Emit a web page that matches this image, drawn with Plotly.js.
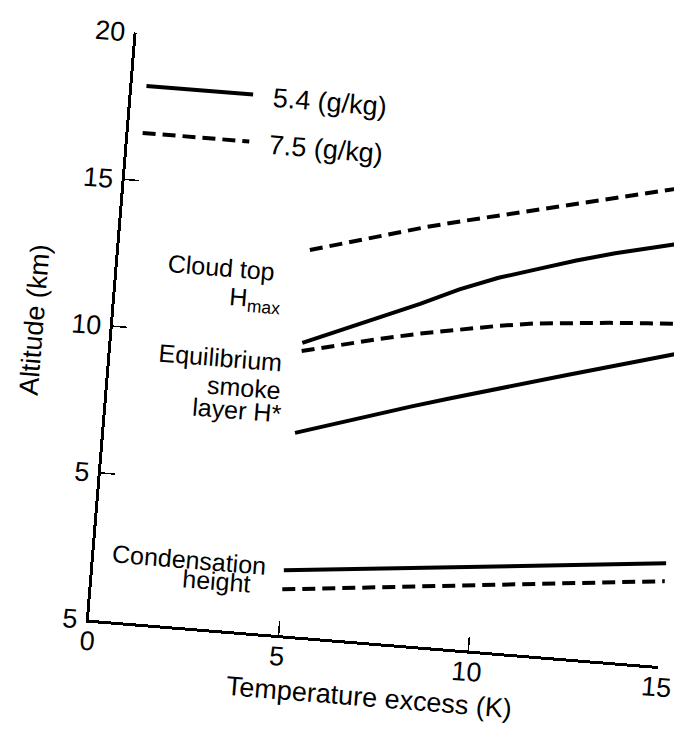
<!DOCTYPE html>
<html><head><meta charset="utf-8">
<script src="https://cdn.plot.ly/plotly-3.0.1.min.js"></script>
<style>
html,body{margin:0;padding:0;background:#fff;overflow:hidden;width:674px;height:738px;}
#wrap{position:absolute;left:0;top:0;width:700px;height:760px;transform-origin:337px 369px;transform:rotate(4.65deg);}
#chart{width:700px;height:760px;}
</style></head><body><div id="wrap"><div id="chart"></div></div>
<script>
// Temperature excess (K)
const temperatureExcess = [5, 6, 7, 8, 9, 10, 11, 12, 13, 14, 15];
// Altitude (km) for moisture 5.4 g/kg (solid) and 7.5 g/kg (dashed)
const cloudTop54      = [9.96, 10.5, 11.05, 11.6, 12.2, 12.7, 13.1, 13.5, 13.85, 14.15, 14.45];
const cloudTop75      = [13.12, 13.48, 13.85, 14.22, 14.54, 14.85, 15.15, 15.45, 15.76, 16.06, 16.36];
const smokeLayer54    = [6.89, 7.3, 7.71, 8.11, 8.49, 8.87, 9.24, 9.6, 9.96, 10.32, 10.68];
const smokeLayer75    = [9.68, 10.0, 10.3, 10.58, 10.82, 11.05, 11.25, 11.37, 11.48, 11.57, 11.65];
const condensation54  = [2.21, 2.34, 2.47, 2.6, 2.72, 2.85, 2.98, 3.11, 3.24, 3.37, 3.5];
const condensation75  = [1.56, 1.69, 1.82, 1.96, 2.09, 2.22, 2.35, 2.49, 2.62, 2.76, 2.89];

const seriesNames = ["5.4 (g/kg)", "7.5 (g/kg)"];
const xTickVals = [0, 5, 10, 15];
const xTickText = ["0", "5", "10", "15"];
const yTickVals = [0, 5, 10, 15, 20];
const yTickText = ["5", "5", "10", "15", "20"];

const FONT = "Liberation Sans, Arial, Helvetica, sans-serif";
const solid = {color: "#000", width: 4};
const dashed = {color: "#000", width: 4, dash: "13px,7px"};
const GAP = "\u00a0\u00a0";

function tr(y, name, line, show, group) {
  return {x: temperatureExcess, y: y, name: name, mode: "lines", line: line,
          showlegend: show, legendgroup: group, hoverinfo: "skip"};
}

const data = [
  tr(cloudTop54, GAP + seriesNames[0], solid, true, "g54"),
  tr(cloudTop75, GAP + seriesNames[1], dashed, true, "g75"),
  tr(smokeLayer54, seriesNames[0], solid, false, "g54"),
  tr(smokeLayer75, seriesNames[1], dashed, false, "g75"),
  tr(condensation54, seriesNames[0], solid, false, "g54"),
  tr(condensation75, seriesNames[1], dashed, false, "g75")
];

function lab(text, x, y) {
  return {text: text, x: x, y: y, xref: "x", yref: "y", xanchor: "right", yanchor: "middle",
          showarrow: false, font: {family: FONT, size: 25, color: "#000"}};
}

const layout = {
  width: 700, height: 760,
  margin: {l: 110, r: 19, t: 50, b: 121},
  paper_bgcolor: "#fff", plot_bgcolor: "#fff",
  font: {family: FONT, color: "#000"},
  showlegend: true,
  legend: {x: 0.016, y: 0.952, xanchor: "left", yanchor: "top", bgcolor: "rgba(0,0,0,0)",
           font: {family: FONT, size: 27, color: "#000"}, itemwidth: 107, tracegroupgap: 9,
           traceorder: "grouped"},
  xaxis: {range: [0, 15], showline: true, linewidth: 3, linecolor: "#000", mirror: false,
          ticks: "inside", ticklen: 14, tickwidth: 1.5, tickcolor: "#000",
          tickvals: xTickVals, ticktext: xTickText, showgrid: false, zeroline: false,
          tickfont: {family: FONT, size: 27, color: "#000"}, ticklabelstandoff: -5,
          title: {text: "Temperature excess (K)", font: {family: FONT, size: 27, color: "#000"}, standoff: 10}},
  yaxis: {range: [0, 20], showline: true, linewidth: 3, linecolor: "#000", mirror: false,
          ticks: "inside", ticklen: 14, tickwidth: 1.5, tickcolor: "#000",
          tickvals: yTickVals, ticktext: yTickText, showgrid: false, zeroline: false,
          tickfont: {family: FONT, size: 27, color: "#000"}, ticklabelstandoff: 3,
          title: {text: "Altitude (km)", font: {family: FONT, size: 27, color: "#000"}, standoff: 20}},
  annotations: [
    lab("Cloud top", 4.18, 12.3),
    lab("H<sub>max</sub>", 4.38, 11.29),
    lab("Equilibrium", 4.56, 9.23),
    lab("smoke", 4.6, 8.28),
    lab("layer H*", 4.65, 7.5),
    lab("Condensation", 4.57, 2.31),
    lab("height", 4.19, 1.65)
  ]
};

Plotly.newPlot("chart", data, layout, {displayModeBar: false, staticPlot: true});
</script></body></html>
